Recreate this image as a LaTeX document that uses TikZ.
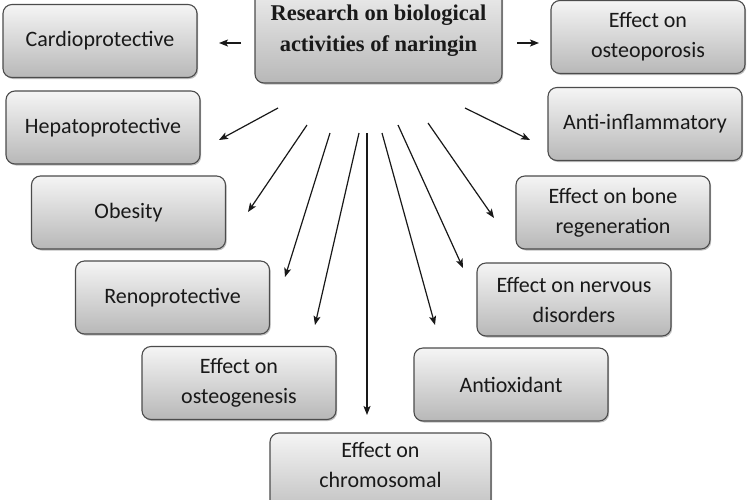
\documentclass[tikz,border=0pt]{standalone}
\usepackage{fontspec}
\setmainfont{Carlito}
\newfontfamily\titlefont{Liberation Serif}
\usetikzlibrary{arrows.meta,shadows}
\begin{document}
\begin{tikzpicture}[x=1pt,y=-1pt,
  box/.style={draw=black!70, line width=1.1pt, rounded corners=9pt,
    top color=black!4, bottom color=black!28,
    drop shadow={shadow xshift=1.2pt, shadow yshift=-1.5pt, opacity=0.35, fill=black!70},
    minimum width=194pt, minimum height=73pt, align=center,
    font=\fontsize{22}{30}\selectfont, text=black!90, inner sep=2pt},
  arr/.style={-{Stealth[length=9pt,width=7pt,inset=2pt]}, line width=1.2pt, black!90}]
\useasboundingbox (0,0) rectangle (750,499);
\fill[white] (0,0) rectangle (750,499);
\clip (0,0) rectangle (750,499);
% main box
\node[box, minimum width=247pt, minimum height=110pt] (main) at (378.5,28) {};
\node[font=\titlefont\bfseries\fontsize{22.5}{31}\selectfont, align=center, text=black!90] (maintext) at (378.5,31) {Research on biological\\activities of naringin};
% outcome boxes
\node[box] (cardio) at (100,41) {Cardioprotective};
\node[box] (hepato) at (103,127.5) {Hepatoprotective};
\node[box] (obesity) at (128.5,212.5) {Obesity};
\node[box] (reno) at (172.5,297.5) {Renoprotective};
\node[box] (osteogen) at (239,383) {Effect on\\osteogenesis};
\node[box, minimum width=221pt, minimum height=92pt] (chrom) at (380.5,479) {};
\node[font=\fontsize{22}{30}\selectfont, align=center, text=black!90] (chromtext) at (380.5,465) {Effect on\\chromosomal};
\node[box] (antiox) at (511,384.5) {Antioxidant};
\node[box] (nervous) at (574,299.5) {Effect on nervous\\disorders};
\node[box] (bone) at (613,212.5) {Effect on bone\\regeneration};
\node[box] (antiinf) at (645,124) {Anti-inflammatory};
\node[box] (osteopor) at (648,37) {Effect on\\osteoporosis};
% arrow end points
\coordinate (s1) at (241,43);  \coordinate (e1) at (219,43);
\coordinate (s2) at (517,43);  \coordinate (e2) at (539,43);
\coordinate (s3) at (278,108); \coordinate (e3) at (219,140);
\coordinate (s4) at (307,125); \coordinate (e4) at (248,212);
\coordinate (s5) at (330,133); \coordinate (e5) at (285,277);
\coordinate (s6) at (359,133); \coordinate (e6) at (315,325);
\coordinate (s7) at (367,133); \coordinate (e7) at (367,415);
\coordinate (s8) at (382,133); \coordinate (e8) at (435,325);
\coordinate (s9) at (398,125); \coordinate (e9) at (463,268);
\coordinate (s10) at (428,123); \coordinate (e10) at (494,218);
\coordinate (s11) at (465,108); \coordinate (e11) at (530,140);
\foreach \i in {1,...,11} {\draw[arr] (s\i) -- (e\i);}
\end{tikzpicture}
\end{document}
